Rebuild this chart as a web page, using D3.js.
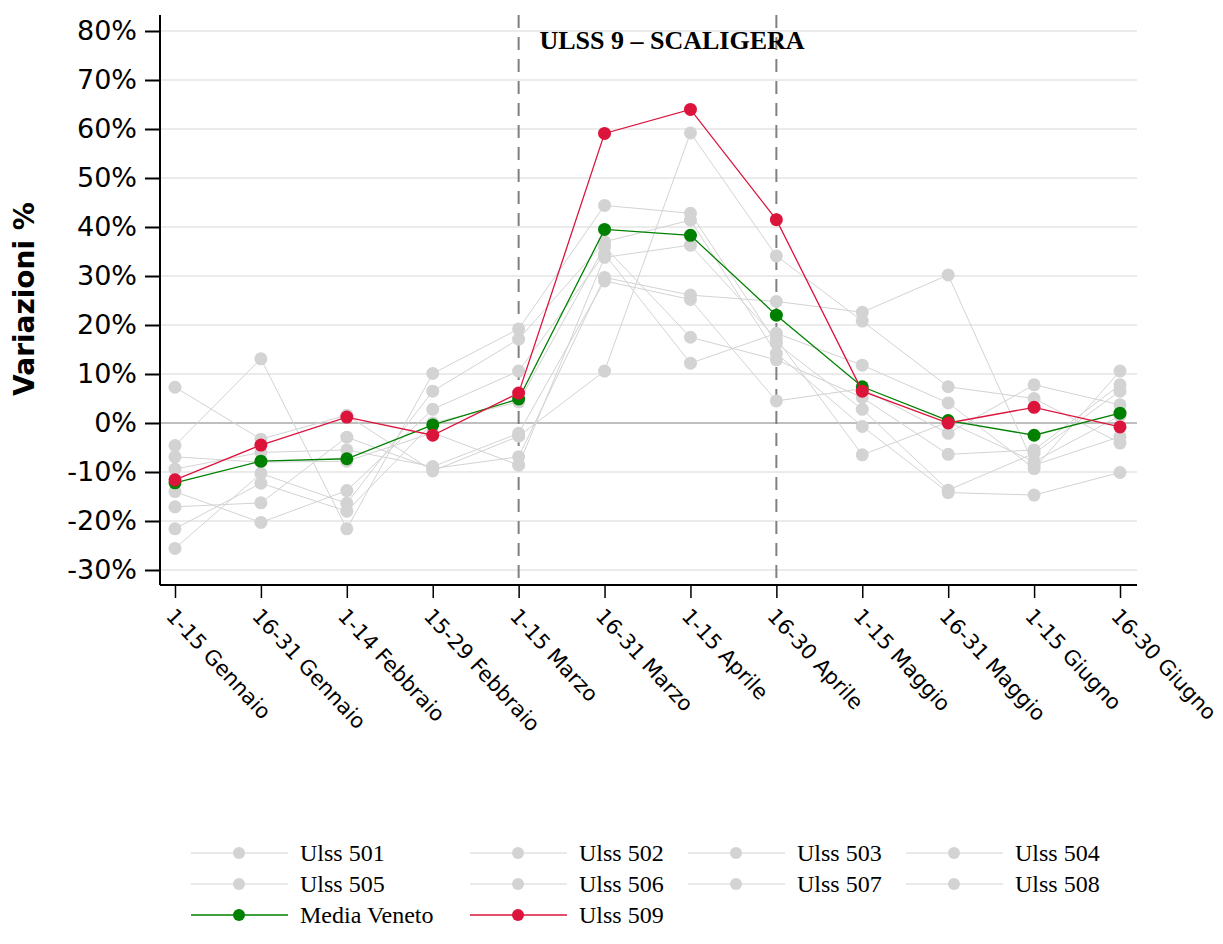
<!DOCTYPE html>
<html><head><meta charset="utf-8">
<script src="https://cdn.jsdelivr.net/npm/d3@7"></script>
<style>body{margin:0;background:#fff;} svg{display:block;}</style>
</head><body>
<svg id="chart" width="1223" height="944"></svg>
<script>
const categories = ["1-15 Gennaio","16-31 Gennaio","1-14 Febbraio","15-29 Febbraio","1-15 Marzo","16-31 Marzo","1-15 Aprile","16-30 Aprile","1-15 Maggio","16-31 Maggio","1-15 Giugno","16-30 Giugno"];
const yTicks = [-30,-20,-10,0,10,20,30,40,50,60,70,80];
const markedPeriods = ["1-15 Marzo","16-30 Aprile"];
const chartTitle = "ULSS 9 – SCALIGERA";
const yTitle = "Variazioni %";

const ulss501 = [-4.6, 13.1, -21.6, 10.1, 19.2, 44.4, 42.8, 16.3, 2.8, -13.7, -6.2, 6.5];
const ulss502 = [7.3, -3.3, 1.6, -9.8, -2.7, 10.6, 59.2, 34.1, 20.8, 7.4, 5.0, -4.1];
const ulss503 = [-25.6, -10.3, -16.4, 6.5, 17.1, 37.0, 41.4, 14.2, -0.7, -14.2, -14.7, -10.1];
const ulss504 = [-9.4, -6.0, -5.5, -8.9, -2.1, 29.0, 25.2, 4.5, 7.0, -2.1, 7.8, 3.7];
const ulss505 = [-14.0, -20.3, -13.8, 2.8, 10.6, 34.5, 12.2, 18.3, 11.8, 4.1, -9.3, 10.6];
const ulss506 = [-17.1, -16.3, -2.9, -9.3, -6.9, 29.7, 26.1, 24.8, 22.6, 30.2, -8.6, -2.8];
const ulss507 = [-21.6, -12.3, -18.0, 0.0, 4.3, 36.0, 17.5, 12.9, 5.2, -6.4, -5.5, 7.8];
const ulss508 = [-6.9, -8.0, -7.8, -2.0, -8.6, 33.8, 36.3, 17.2, -6.5, 0.2, -7.9, 1.5];
const mediaVeneto = [-12.2, -7.8, -7.3, -0.4, 4.9, 39.5, 38.3, 22.0, 7.4, 0.5, -2.5, 2.0];
const ulss509 = [-11.6, -4.5, 1.2, -2.5, 6.1, 59.1, 64.0, 41.5, 6.5, 0.0, 3.2, -0.8];

const series = [
  {name:"Ulss 501", values: ulss501, color:"#d3d3d3", w:1},
  {name:"Ulss 502", values: ulss502, color:"#d3d3d3", w:1},
  {name:"Ulss 503", values: ulss503, color:"#d3d3d3", w:1},
  {name:"Ulss 504", values: ulss504, color:"#d3d3d3", w:1},
  {name:"Ulss 505", values: ulss505, color:"#d3d3d3", w:1},
  {name:"Ulss 506", values: ulss506, color:"#d3d3d3", w:1},
  {name:"Ulss 507", values: ulss507, color:"#d3d3d3", w:1},
  {name:"Ulss 508", values: ulss508, color:"#d3d3d3", w:1},
  {name:"Media Veneto", values: mediaVeneto, color:"#008000", w:1.3},
  {name:"Ulss 509", values: ulss509, color:"#dc143c", w:1.3}
];

const svg = d3.select("#chart");
const pLeft = 160, pRight = 1137, pTop = 15, pBottom = 585;

const x = d3.scalePoint().domain(categories).range([175, 1120]);
const y = d3.scaleLinear().domain([-30, 80]).range([570, 31]);

// grid
svg.append("g").selectAll("line").data(yTicks).join("line")
  .attr("x1", pLeft).attr("x2", pRight)
  .attr("y1", d => y(d)).attr("y2", d => y(d))
  .attr("stroke", d => d === 0 ? "#808080" : "#ebebeb")
  .attr("stroke-width", d => d === 0 ? 1.2 : 2);

// dashed verticals
svg.append("g").selectAll("line").data(markedPeriods).join("line")
  .attr("x1", d => x(d)).attr("x2", d => x(d))
  .attr("y1", pTop).attr("y2", pBottom)
  .attr("stroke", "#808080").attr("stroke-width", 2)
  .attr("stroke-dasharray", "13,9");

const line = d3.line().x((d,i) => x(categories[i])).y(d => y(d));

const gS = svg.append("g");
series.forEach(s => {
  const g = gS.append("g");
  g.append("path").datum(s.values).attr("d", line)
    .attr("fill", "none").attr("stroke", s.color).attr("stroke-width", s.w);
  g.selectAll("circle").data(s.values).join("circle")
    .attr("cx", (d,i) => x(categories[i])).attr("cy", d => y(d))
    .attr("r", 6.5).attr("fill", s.color);
});

// axes
const yAxis = d3.axisLeft(y).tickValues(yTicks).tickFormat(d => d + "%").tickSize(15).tickPadding(8);
const gy = svg.append("g").attr("transform", `translate(${pLeft},0)`).call(yAxis);
gy.select(".domain").remove();
gy.append("line").attr("x1",0).attr("x2",0).attr("y1",pTop).attr("y2",pBottom).attr("stroke","#000").attr("stroke-width",2);
gy.selectAll(".tick line").attr("stroke","#000").attr("stroke-width",2);
gy.selectAll(".tick text").attr("font-family","DejaVu Sans").attr("font-size",27).attr("fill","#000");

const xAxis = d3.axisBottom(x).tickSize(13).tickFormat("");
const gx = svg.append("g").attr("transform", `translate(0,${pBottom})`).call(xAxis);
gx.select(".domain").remove();
gx.append("line").attr("x1",pLeft).attr("x2",pRight).attr("y1",0).attr("y2",0).attr("stroke","#000").attr("stroke-width",2);
gx.selectAll(".tick line").attr("stroke","#000").attr("stroke-width",1.5);

svg.append("g").selectAll("text").data(categories).join("text")
  .attr("transform", d => `translate(${x(d) - 10},${pBottom + 32}) rotate(47)`)
  .attr("font-family","DejaVu Sans").attr("font-size",21).attr("fill","#000")
  .text(d => d);

// y title
svg.append("text").attr("transform","translate(34,299) rotate(-90)")
  .attr("text-anchor","middle").attr("font-family","DejaVu Sans").attr("font-weight","bold")
  .attr("font-size",28).text(yTitle);

// title
svg.append("text").attr("x", 672).attr("y", 49).attr("text-anchor","middle")
  .attr("font-family","Liberation Serif").attr("font-weight","bold").attr("font-size",26)
  .text(chartTitle);

// legend
const colX = [191, 470, 688, 906];
const rowY = [853, 884, 915];
const lg = svg.append("g");
series.forEach((s, k) => {
  const cx = colX[k % 4], cy = rowY[Math.floor(k / 4)];
  lg.append("line").attr("x1", cx).attr("x2", cx + 97).attr("y1", cy).attr("y2", cy)
    .attr("stroke", s.color).attr("stroke-width", s.w === 1 ? 1 : 1.5);
  lg.append("circle").attr("cx", cx + 48).attr("cy", cy).attr("r", 6).attr("fill", s.color);
  lg.append("text").attr("x", cx + 109).attr("y", cy).attr("dy","0.35em")
    .attr("font-family","Liberation Serif").attr("font-size",24).text(s.name);
});
</script>
</body></html>
